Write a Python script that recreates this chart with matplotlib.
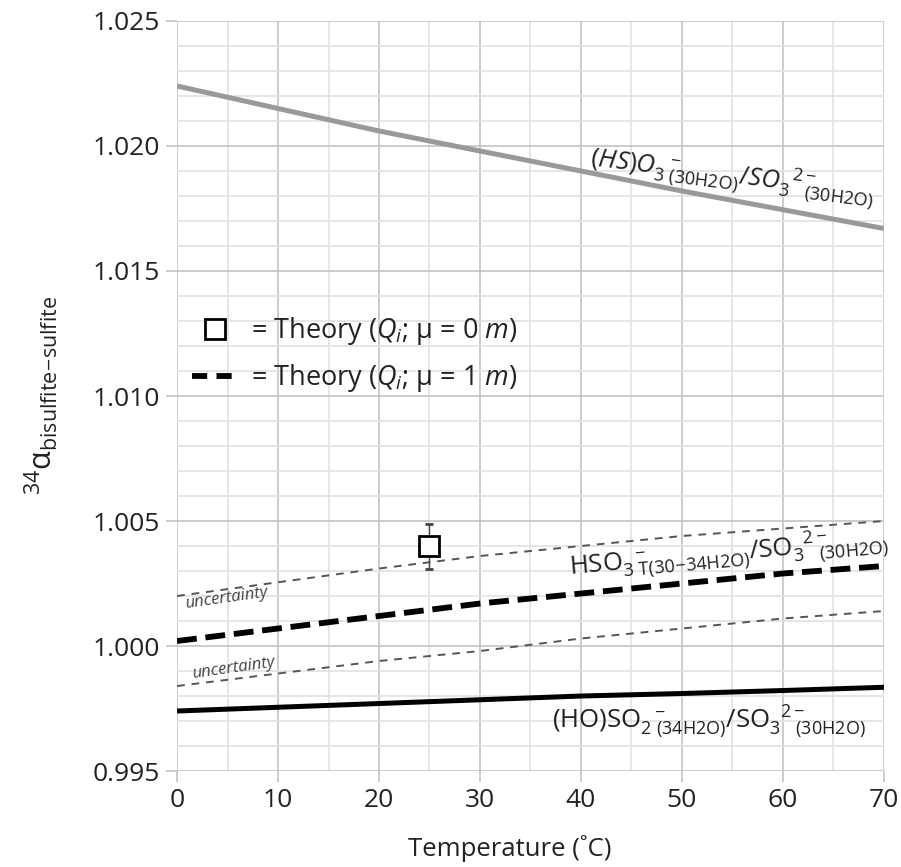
import numpy as np
import matplotlib
matplotlib.use("Agg")
import matplotlib.pyplot as plt
from matplotlib.lines import Line2D
from matplotlib.ticker import MultipleLocator

plt.rcParams['font.family'] = ['Open Sans', 'DejaVu Sans']
plt.rcParams['mathtext.fontset'] = 'custom'
plt.rcParams['mathtext.rm'] = 'Open Sans'
plt.rcParams['mathtext.it'] = 'Open Sans:italic'
plt.rcParams['mathtext.bf'] = 'Open Sans:bold'

# temperature grid (deg C)
temp = [0, 10, 20, 30, 40, 50, 60, 70]

# (HS)O3- / SO3 2-  (grey line)
hso3_hs = [1.0224, 1.0215, 1.0206, 1.0198, 1.0190, 1.0182, 1.01745, 1.0167]
# (HO)SO2- / SO3 2-  (black solid)
hso3_ho = [0.9974, 0.99755, 0.9977, 0.99785, 0.9980, 0.9981, 0.99822, 0.99835]
# HSO3- total / SO3 2-  (thick dashed, mu = 1 m)
hso3_tot = [1.0002, 1.0007, 1.0012, 1.0017, 1.0021, 1.0025, 1.0029, 1.0032]
unc_hi = [1.0020, 1.00255, 1.0031, 1.0036, 1.0040, 1.0044, 1.0047, 1.0050]
unc_lo = [0.9984, 0.9989, 0.9994, 0.9998, 1.0003, 1.0007, 1.0011, 1.0014]

# theory point (mu = 0 m)
pt_t = [25]
pt_a = [1.0040]
pt_err = [0.0009]

fig = plt.figure(figsize=(9.01, 8.67), dpi=100)
ax = fig.add_axes([0.1965, 0.1107, 0.7845, 0.8651])

ax.plot(temp, hso3_hs, color='#999999', lw=3.6, solid_capstyle='butt', zorder=3)
ax.plot(temp, hso3_ho, color='black', lw=3.6, solid_capstyle='butt', zorder=3)
ax.plot(temp, hso3_tot, color='black', lw=4.2, dashes=(3.4, 1.5), zorder=3)
ax.plot(temp, unc_hi, color='#555555', lw=1.4, dashes=(4, 3.5), zorder=3)
ax.plot(temp, unc_lo, color='#555555', lw=1.4, dashes=(4, 3.5), zorder=3)
ax.errorbar(pt_t, pt_a, yerr=pt_err, fmt='s', ms=15, mfc='white', mec='black',
            mew=2, ecolor='#444444', elinewidth=1, capsize=3, zorder=4)

ax.set_xlim(0, 70)
ax.set_ylim(0.995, 1.025)
ax.xaxis.set_major_locator(MultipleLocator(10))
ax.xaxis.set_minor_locator(MultipleLocator(5))
ax.yaxis.set_major_locator(MultipleLocator(0.005))
ax.yaxis.set_minor_locator(MultipleLocator(0.001))
ax.yaxis.set_major_formatter(matplotlib.ticker.FormatStrFormatter('%.3f'))
ax.grid(which='major', color='#c4c4c4', lw=1.2)
ax.grid(which='minor', color='#e2e2e2', lw=1.2)
ax.set_axisbelow(True)
for s in ax.spines.values():
    s.set_visible(False)
ax.tick_params(which='major', length=8, width=1.2, color='#c4c4c4',
               labelsize=19, labelcolor='#222222', pad=4)
ax.tick_params(which='minor', length=0)

ax.set_xlabel('Temperature (˚C)', fontsize=18.5, color='#222222')
ax.xaxis.set_label_coords(0.471, -0.085)
ax.set_ylabel(r'$^{34}\mathregular{\alpha}_{\mathregular{bisulfite\!-\!sulfite}}$',
              fontsize=22, color='#222222')
ax.yaxis.set_label_coords(-0.165, 0.5)

# curve labels
ax.text(40.8, 1.0192,
        r'$\mathit{(HS)O}_{\mathrm{3\ (30H2O)}}^{\ \ -}\mathit{/SO}_{\mathrm{3\ \ \ (30H2O)}}^{\ \ 2-}$',
        fontsize=18.5, rotation=-7, rotation_mode='anchor', ha='left', va='baseline',
        color='#222222', zorder=5)
ax.text(38.9, 1.00284,
        r'$\mathrm{HSO}_{\mathrm{3\ T(30\!-\!34H2O)}}^{\ \ -}\mathrm{/SO}_{\mathrm{3\ \ \ (30H2O)}}^{\ \ 2-}$',
        fontsize=18.5, rotation=5, rotation_mode='anchor', ha='left', va='baseline',
        color='#222222', zorder=5)
ax.text(37.1, 0.99672,
        r'$\mathrm{(HO)SO}_{\mathrm{2\ (34H2O)}}^{\ \ -}\mathrm{/SO}_{\mathrm{3\ \ \ (30H2O)}}^{\ \ 2-}$',
        fontsize=18.5, ha='left', va='baseline', color='#222222', zorder=5)
ax.text(0.8, 1.00152, 'uncertainty', fontsize=12, style='italic', color='#444444',
        rotation=8, rotation_mode='anchor', va='baseline', zorder=5)
ax.text(1.5, 0.99872, 'uncertainty', fontsize=12, style='italic', color='#444444',
        rotation=8, rotation_mode='anchor', va='baseline', zorder=5)

handles = [
    Line2D([], [], ls='none', marker='s', ms=15, mfc='white', mec='black', mew=2),
    Line2D([], [], color='black', lw=4.2, dashes=(2.6, 1.6)),
]
labels = [r'= Theory ($Q_i$; μ = 0 $m$)', r'= Theory ($Q_i$; μ = 1 $m$)']
ax.legend(handles, labels, loc='upper left', bbox_to_anchor=(-0.0135, 0.64),
          frameon=False, fontsize=19.5, handlelength=1.7, handletextpad=0.5,
          labelspacing=0.55, labelcolor='#222222')

fig.savefig('out.png', dpi=100, facecolor='white')
